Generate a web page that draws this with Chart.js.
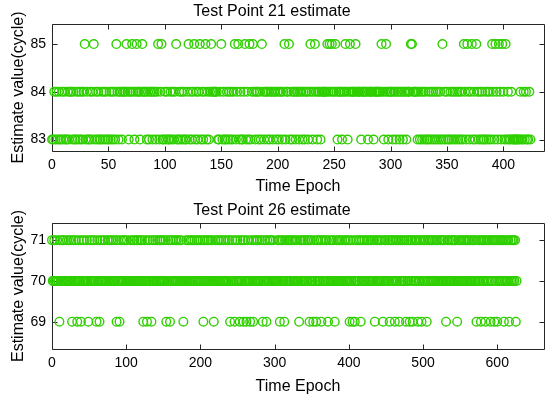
<!DOCTYPE html>
<html><head><meta charset="utf-8">
<script src="https://cdn.jsdelivr.net/npm/chart.js@4.4.0/dist/chart.umd.min.js"></script>
<style>
html,body{margin:0;padding:0;background:#fff;}
#w{position:relative;width:550px;height:399px;overflow:hidden;}
#c1{position:absolute;left:0;top:0;width:550px;height:199px;}
#c2{position:absolute;left:0;top:199px;width:550px;height:200px;}
</style></head><body>
<div id="w"><canvas id="c1" width="550" height="199"></canvas><canvas id="c2" width="550" height="200"></canvas></div>
<script>
// ---- Data ----
const titles = ["Test Point 21 estimate", "Test Point 26 estimate"];
const xLabel = "Time Epoch";
const yLabel = "Estimate value(cycle)";

const tp21XTicks = [0, 50, 100, 150, 200, 250, 300, 350, 400];
const tp21YTicks = [83, 84, 85];
const tp26XTicks = [0, 100, 200, 300, 400, 500, 600];
const tp26YTicks = [69, 70, 71];

// Test point 21: estimate per epoch (epoch 0..424)
const tp21Values = [
83,83,84,83,84,83,84,83,83,84,
83,84,83,83,84,83,84,84,83,84,
83,83,84,83,84,83,84,83,84,85,
83,84,83,83,84,83,84,85,83,84,
83,84,83,83,84,83,84,83,84,83,
83,84,83,84,83,84,83,85,84,83,
84,84,83,84,84,84,85,84,83,84,
84,85,84,83,84,85,84,84,83,84,
85,84,84,84,83,84,83,84,84,83,
84,84,83,84,85,83,84,85,83,83,
84,83,84,83,83,84,83,84,83,84,
85,83,83,84,83,84,83,84,83,83,
84,85,83,84,83,84,85,83,84,83,
84,85,83,84,83,84,85,83,84,83,
84,85,84,84,84,84,84,83,83,84,
85,83,84,83,83,84,83,84,83,84,
83,84,85,83,84,85,83,84,83,83,
84,85,83,84,83,85,83,84,85,84,
83,84,84,83,84,83,85,84,83,84,
84,83,84,83,84,84,83,84,84,83,
84,83,84,84,83,84,85,83,84,84,
85,83,84,83,84,84,83,84,84,83,
84,84,83,84,83,84,84,83,84,85,
84,83,84,85,84,83,84,84,83,84,
84,84,84,84,85,84,85,84,85,84,
84,85,84,83,84,84,84,83,84,84,
85,84,83,84,85,84,84,84,84,85,
84,84,84,84,83,84,84,84,84,84,
83,84,84,84,84,83,84,84,84,84,
84,84,85,84,83,84,85,84,83,84,
84,84,83,84,84,83,84,84,83,84,
84,83,84,84,83,84,84,84,85,85,
84,84,84,84,83,84,83,84,83,84,
83,84,83,83,84,83,84,83,84,83,
84,83,84,83,84,83,85,83,84,83,
84,83,83,84,83,84,83,84,83,84,
83,84,83,84,83,85,84,83,85,84,
83,84,85,83,84,83,85,84,83,84,
83,84,83,83,84,83,84,83,84,83,
85,84,83,85,84,83,85,84,83,85,
84,83,85,83,84,83,83,84,83,83,
83,83,83,83,83,84,83,83,84,83,
84,83,83,84,83
];

// Test point 26: estimate per epoch (epoch 0..626)
const tp26Values = [
71,70,70,71,70,70,70,71,70,70,
69,71,70,70,71,70,71,70,70,70,
71,70,70,71,70,70,71,69,70,71,
70,70,71,70,69,70,71,70,70,69,
71,70,70,71,70,70,70,71,70,69,
70,71,70,70,71,70,70,71,70,70,
69,71,70,70,69,71,70,70,71,70,
70,71,70,70,70,71,70,71,70,70,
71,70,70,71,70,70,71,69,70,71,
70,69,70,71,70,70,71,70,71,70,
70,71,70,70,70,70,71,70,70,71,
70,71,70,70,71,70,71,70,70,71,
70,71,70,69,70,71,70,70,69,71,
70,70,71,70,69,70,71,70,70,71,
70,70,71,70,70,71,70,71,70,70,
71,70,70,71,69,70,70,71,70,69,
71,70,70,71,70,70,71,70,71,70,
70,71,70,70,71,70,70,69,70,70,
70,71,70,70,71,70,70,71,70,71,
70,70,71,70,70,71,70,71,70,70,
71,70,70,71,69,70,71,70,70,71,
70,71,70,70,71,70,71,70,69,70,
71,70,70,71,70,71,70,70,71,70,
70,71,70,70,71,70,70,71,70,71,
69,70,70,71,70,70,69,71,70,70,
71,70,70,69,71,70,70,71,69,70,
71,70,69,70,71,70,70,69,70,71,
70,69,71,70,70,71,70,71,70,70,
71,70,70,71,69,70,70,71,70,69,
71,70,70,71,70,71,70,70,71,70,
70,70,70,70,71,70,71,69,70,71,
70,71,70,69,71,70,70,71,70,71,
70,70,71,70,71,70,70,71,70,70,
71,70,70,69,71,70,71,70,70,71,
70,71,70,70,71,70,71,69,70,71,
70,70,69,71,70,70,69,71,70,71,
70,70,71,69,70,71,70,70,71,70,
71,70,69,70,71,70,70,71,70,71,
70,69,70,71,70,70,71,70,71,70,
70,71,70,70,71,70,71,70,70,71,
70,69,71,70,70,69,71,70,69,70,
71,70,70,71,70,71,69,70,71,70,
70,71,70,70,71,70,71,70,70,71,
70,71,70,70,71,69,70,71,70,71,
70,70,71,70,71,70,69,70,71,70,
71,70,70,71,70,69,71,70,71,70,
71,70,69,71,70,71,70,71,69,70,
71,70,71,70,70,71,70,69,71,70,
71,70,69,71,70,71,69,70,71,70,
71,70,71,69,70,71,70,71,69,70,
71,70,71,70,71,69,70,71,70,71,
70,71,70,71,70,70,71,70,71,70,
71,70,70,71,70,71,70,71,70,71,
70,69,70,71,70,71,70,70,71,70,
71,70,71,70,71,70,69,70,71,70,
71,70,71,70,70,71,70,71,70,71,
70,71,70,71,70,70,71,70,71,70,
71,70,69,70,71,70,71,70,69,71,
70,71,70,71,69,70,71,70,71,70,
71,69,70,71,70,71,69,71,70,71,
69,70,71,70,71,70,71,70,71,69,
70,71,70,71,70,71,69,70,71,70,
71,70,71,70,71,69,70
];

// ---- Styling ----
const FONT = "'Liberation Sans', Arial, Helvetica, sans-serif";
const GREEN = '#2fcf00';
const AXIS = '#262626';
Chart.defaults.color = '#000';
Chart.defaults.font.family = FONT;

const boxPlugin = {
  id: 'boxTicks',
  beforeDatasetsDraw(chart) {
    const {ctx, chartArea: {left, right, top, bottom}, scales: {x, y}} = chart;
    const L = 5;
    ctx.save();
    ctx.strokeStyle = AXIS;
    ctx.lineWidth = 1;
    ctx.beginPath();
    ctx.rect(left + 0.5, top + 0.5, right - left, bottom - top);
    x.ticks.forEach(t => {
      const px = Math.round(x.getPixelForValue(t.value)) + 0.5;
      ctx.moveTo(px, bottom + 0.5); ctx.lineTo(px, bottom + 0.5 - L);
      ctx.moveTo(px, top + 0.5); ctx.lineTo(px, top + 0.5 + L);
    });
    y.ticks.forEach(t => {
      const py = Math.round(y.getPixelForValue(t.value)) + 0.5;
      ctx.moveTo(left + 0.5, py); ctx.lineTo(left + 0.5 + L, py);
      ctx.moveTo(right + 0.5, py); ctx.lineTo(right + 0.5 - L, py);
    });
    ctx.stroke();
    ctx.restore();
  }
};

function makeChart(canvasId, title, values, xTicks, yTicks, xMax, yMin, yMax, xAxisH) {
  const pts = values.map((v, i) => ({x: i, y: v}));
  return new Chart(document.getElementById(canvasId), {
    type: 'scatter',
    data: { datasets: [{
      data: pts,
      pointStyle: 'circle',
      pointRadius: 4.3,
      pointHoverRadius: 4.3,
      pointBorderWidth: 1.4,
      pointBackgroundColor: 'rgba(0,0,0,0)',
      pointBorderColor: GREEN,
      showLine: false,
      clip: false
    }]},
    options: {
      responsive: false,
      animation: false,
      events: [],
      layout: { padding: { left: 0, right: 6, top: 0, bottom: 0 } },
      plugins: {
        legend: { display: false },
        tooltip: { enabled: false },
        title: {
          display: true, text: title, color: '#000',
          font: { size: 16, weight: 'normal', family: FONT, lineHeight: '16px' },
          padding: { top: 4, bottom: 4 }
        }
      },
      scales: {
        x: {
          type: 'linear', min: 0, max: xMax,
          grid: { display: false, drawTicks: false },
          border: { display: false },
          afterBuildTicks: s => { s.ticks = xTicks.map(v => ({value: v})); },
          afterFit: s => { s.height = xAxisH; },
          ticks: { padding: 6, font: { size: 14, family: FONT }, color: '#000', maxRotation: 0, autoSkip: false },
          title: { display: true, text: xLabel, color: '#000', font: { size: 16, family: FONT }, padding: { top: 0, bottom: 3 } }
        },
        y: {
          type: 'linear', min: yMin, max: yMax,
          grid: { display: false, drawTicks: false },
          border: { display: false },
          afterBuildTicks: s => { s.ticks = yTicks.map(v => ({value: v})); },
          afterFit: s => { s.width = 52; },
          ticks: { padding: 6, font: { size: 14, family: FONT }, color: '#000' },
          title: { display: true, text: yLabel, color: '#000', font: { size: 16, family: FONT }, padding: { top: 8.5, bottom: 0 } }
        }
      }
    },
    plugins: [boxPlugin]
  });
}

makeChart('c1', titles[0], tp21Values, tp21XTicks, tp21YTicks, 436, 82.76, 85.42, 48);
makeChart('c2', titles[1], tp26Values, tp26XTicks, tp26YTicks, 663, 68.33, 71.42, 50);
</script>
</body></html>
